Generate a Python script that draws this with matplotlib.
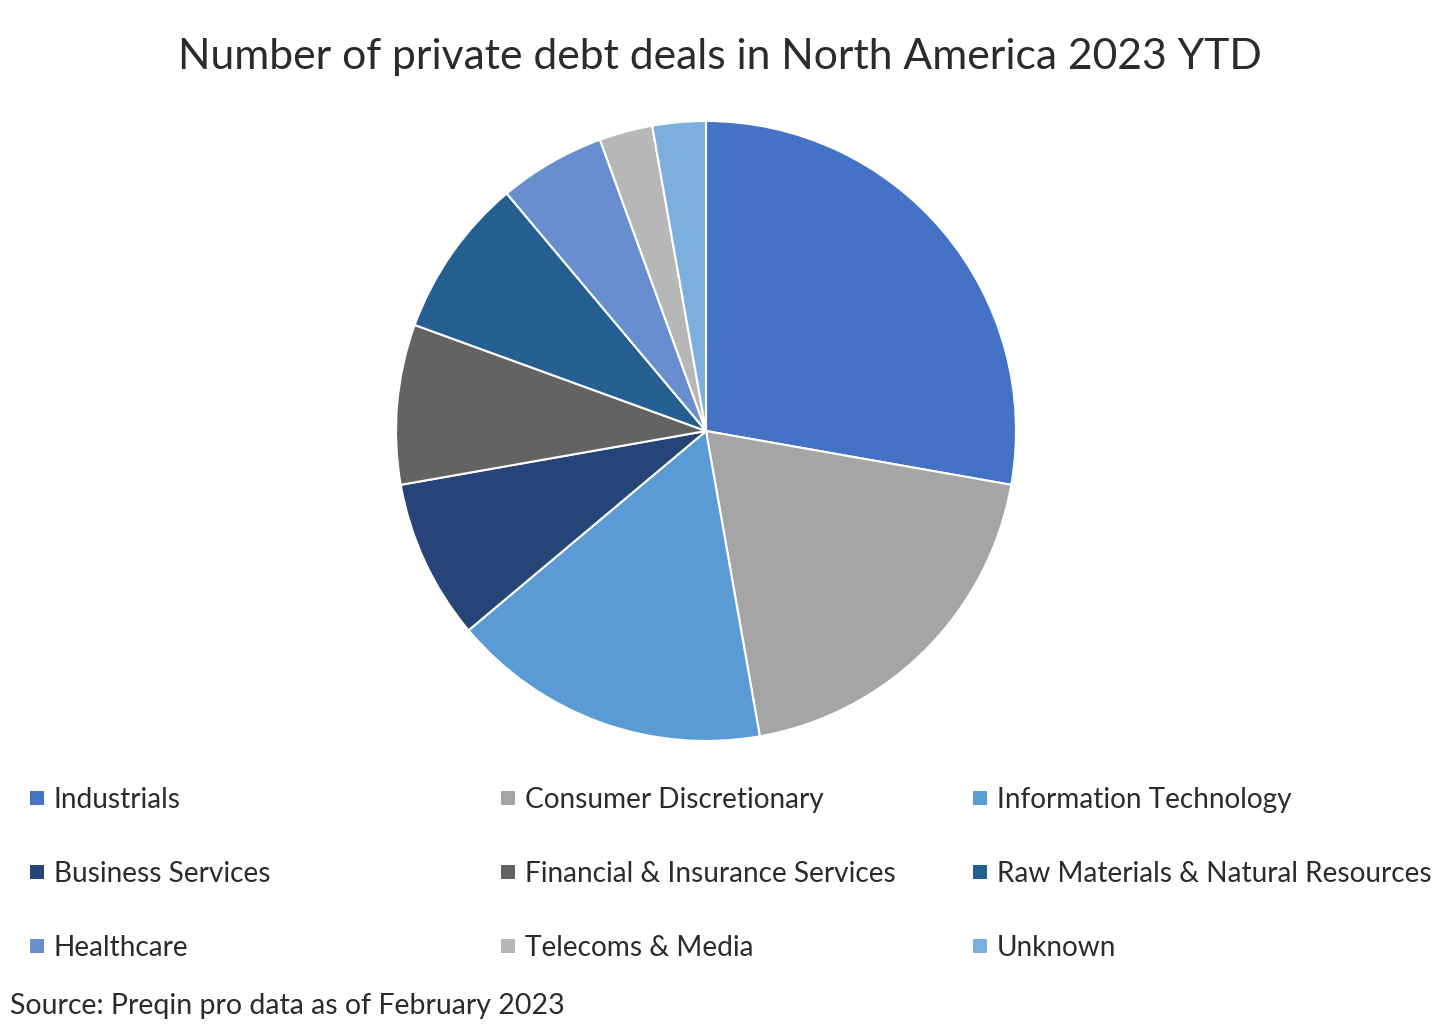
import matplotlib
matplotlib.use("Agg")
import matplotlib.pyplot as plt
from matplotlib.patches import Rectangle

plt.rcParams['font.family'] = ['Lato', 'DejaVu Sans']

categories = ["Industrials", "Consumer Discretionary", "Information Technology",
              "Business Services", "Financial & Insurance Services",
              "Raw Materials & Natural Resources", "Healthcare",
              "Telecoms & Media", "Unknown"]
deals = [10, 7, 6, 3, 3, 3, 2, 1, 1]
colors = ["#4472C4", "#A5A5A5", "#5B9BD5", "#264478", "#636363",
          "#255E91", "#698ED0", "#B7B7B7", "#7CAFDD"]

W, H = 1440, 1030
fig = plt.figure(figsize=(W / 100, H / 100), dpi=100)
fig.patch.set_facecolor("white")

cx, cy, r = 706, 431, 310
ax = fig.add_axes([(cx - r) / W, (H - cy - r) / H, 2 * r / W, 2 * r / H])
ax.pie(deals, colors=colors, startangle=90, counterclock=False,
       wedgeprops=dict(edgecolor="white", linewidth=1.5))
ax.set_xlim(-1, 1)
ax.set_ylim(-1, 1)
ax.set_aspect("equal")
ax.axis("off")

text_color = "#2b2b2b"
fig.text(0.5, 1 - 57 / H, "Number of private debt deals in North America 2023 YTD",
         ha="center", va="center", fontsize=30.7, color=text_color)

col_x = [30, 501, 973]
row_y = [798, 872, 946]
sq = 14
for i, (lab, c) in enumerate(zip(categories, colors)):
    col, row = i % 3, i // 3
    x0, y0 = col_x[col], row_y[row]
    fig.patches.append(Rectangle((x0 / W, (H - y0 - sq / 2) / H), sq / W, sq / H,
                                 transform=fig.transFigure, facecolor=c,
                                 edgecolor="none"))
    fig.text((x0 + 24) / W, 1 - (y0 + 2) / H, lab, ha="left", va="center",
             fontsize=20.2, color=text_color)

fig.text(10 / W, 1 - 1006 / H, "Source: Preqin pro data as of February 2023",
         ha="left", va="center", fontsize=20.5, color=text_color)

fig.savefig("out.png", dpi=100, facecolor="white")
